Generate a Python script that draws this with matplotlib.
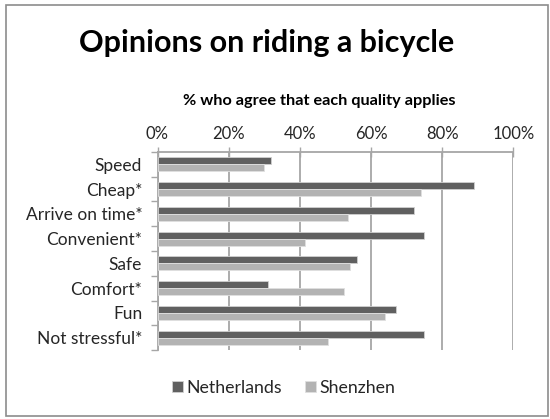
import matplotlib
matplotlib.use("Agg")
import matplotlib.pyplot as plt
from matplotlib.patches import Rectangle
import numpy as np

categories = ["Speed", "Cheap*", "Arrive on time*", "Convenient*", "Safe",
              "Comfort*", "Fun", "Not stressful*"]
netherlands = [32, 89, 72, 75, 56, 31, 67, 75]
shenzhen = [30, 74, 53.5, 41.5, 54, 52.5, 64, 48]
xticks = [0, 20, 40, 60, 80, 100]
xticklabels = ["0%", "20%", "40%", "60%", "80%", "100%"]

nl_color = "#606060"
sz_color = "#b3b3b3"
grid_color = "#a6a6a6"
text_color = "#262626"

plt.rcParams["font.family"] = ["Lato", "DejaVu Sans"]

fig = plt.figure(figsize=(5.5, 4.19), dpi=100)
fig.patches.append(Rectangle((0.011, 0.007), 0.985, 0.98, transform=fig.transFigure,
                             fill=False, edgecolor="#8c8c8c", linewidth=1.2))

ax = fig.add_axes([157.5 / 550, 1 - 350 / 419, (513.3 - 157.5) / 550, (350 - 152.0) / 419])

n = len(categories)
y = np.arange(n)
h = 0.28
ax.barh(y - h / 2, netherlands, height=h, color=nl_color, edgecolor="#d0d0d0",
        linewidth=0.6, label="Netherlands", zorder=3)
ax.barh(y + h / 2, shenzhen, height=h, color=sz_color, edgecolor="#e0e0e0",
        linewidth=0.6, label="Shenzhen", zorder=3)

ax.set_ylim(n - 0.5, -0.5)
ax.set_xlim(0, 100)
ax.set_yticks(y)
ax.set_yticklabels(categories, fontsize=12.5, color=text_color)
ax.set_yticks(np.arange(n + 1) - 0.5, minor=True)
ax.tick_params(axis="y", which="major", length=0, pad=11)
ax.tick_params(axis="y", which="minor", length=5, color=grid_color, width=1)

ax.xaxis.tick_top()
ax.set_xticks(xticks)
ax.set_xticklabels(xticklabels, fontsize=12, color=text_color)
ax.tick_params(axis="x", direction="inout", length=7, width=1, color=grid_color, pad=4)
ax.xaxis.grid(True, color=grid_color, linewidth=1.3, zorder=0)

for s in ["right", "bottom"]:
    ax.spines[s].set_visible(False)
for s in ["left", "top"]:
    ax.spines[s].set_color(grid_color)
    ax.spines[s].set_linewidth(1.3)

fig.text(0.484, 0.897, "Opinions on riding a bicycle", ha="center", va="center",
         fontsize=22, fontweight="bold")
fig.text(0.58, 0.758, "% who agree that each quality applies", ha="center", va="center",
         fontsize=11.7, fontweight="bold")

fig.legend(loc="center", bbox_to_anchor=(0.516, 0.074), ncol=2, frameon=False,
           fontsize=12.8, handlelength=0.6, handleheight=0.6, handletextpad=0.2,
           columnspacing=1.3, labelcolor=text_color)

fig.savefig("out.png", dpi=100)
